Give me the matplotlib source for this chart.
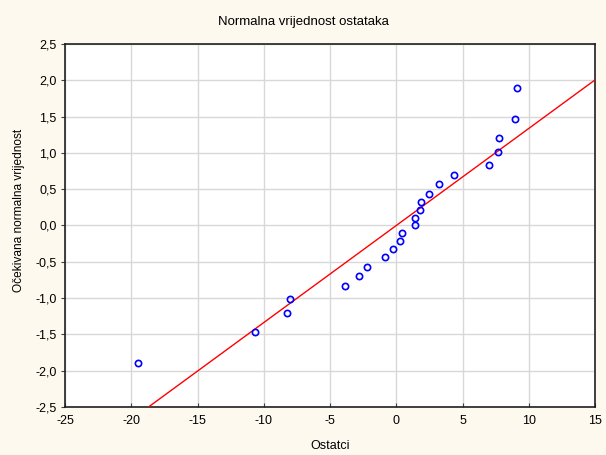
# Normal probability plot of residuals
import numpy as np
import matplotlib
matplotlib.use('Agg')
import matplotlib.pyplot as plt
from matplotlib.ticker import FuncFormatter

plt.rcParams['font.family'] = ['Liberation Sans', 'DejaVu Sans']

# Residuals (x) and expected normal values (y)
residuals = [-19.53, -10.63, -8.28, -7.99, -3.88, -2.81, -2.24, -0.86, -0.26, 0.31, 0.42,
             1.40, 1.40, 1.80, 1.90, 2.47, 3.25, 4.32, 6.98, 7.65, 7.76, 8.93, 9.11]
expected = [-1.895, -1.47, -1.205, -1.01, -0.84, -0.69, -0.565, -0.44, -0.32, -0.21, -0.105,
            0.0, 0.105, 0.21, 0.32, 0.44, 0.565, 0.69, 0.84, 1.01, 1.205, 1.47, 1.895]

# Reference line: expected = (residual - mean) / sd
line_mean = 0.0
line_sd = 7.48

x_ticks = [-25, -20, -15, -10, -5, 0, 5, 10, 15]
y_ticks = [-2.5, -2.0, -1.5, -1.0, -0.5, 0.0, 0.5, 1.0, 1.5, 2.0, 2.5]

BG = '#FDF9EF'

fig = plt.figure(figsize=(6.06, 4.55), dpi=100, facecolor=BG)
ax = fig.add_axes([0.1073, 0.1055, 0.8746, 0.7978])
ax.set_facecolor('white')

ax.set_xlim(-25, 15)
ax.set_ylim(-2.5, 2.5)
ax.set_xticks(x_ticks)
ax.set_yticks(y_ticks)

# comma decimal labels
ax.yaxis.set_major_formatter(FuncFormatter(lambda v, p: f'{v:.1f}'.replace('.', ',')))
ax.xaxis.set_major_formatter(FuncFormatter(lambda v, p: f'{v:.0f}'))

ax.grid(True, color='#d8d8d8', linewidth=1.0)
ax.set_axisbelow(True)

line_x = np.array([-25, 15])
line_y = (line_x - line_mean) / line_sd
ax.plot(line_x, line_y, color='#ff0000', linewidth=1.0, zorder=3)

ax.plot(residuals, expected, linestyle='none', marker='o', markersize=4.5,
        markerfacecolor='none', markeredgecolor='#0000ff', markeredgewidth=1.2, zorder=4)

for s in ax.spines.values():
    s.set_color('#202020')
    s.set_linewidth(1.2)

ax.tick_params(axis='y', length=3, width=0.8, color='#404040', labelsize=9, pad=3)
ax.tick_params(axis='x', direction='in', length=3, width=0.8, color='#404040',
               labelsize=9, pad=6)

# title centred on the figure, y label a bit above the axes centre
fig.text(0.5, 1 - 22 / 455, 'Normalna vrijednost ostataka', fontsize=9.5,
         ha='center', va='center')
ax.set_xlabel('Ostatci', fontsize=9, labelpad=9)
fig.text(19 / 606, 1 - 210 / 455, 'Očekivana normalna vrijednost', fontsize=8.6,
         rotation=90, ha='center', va='center')

fig.savefig('out.png', dpi=100, facecolor=BG)
